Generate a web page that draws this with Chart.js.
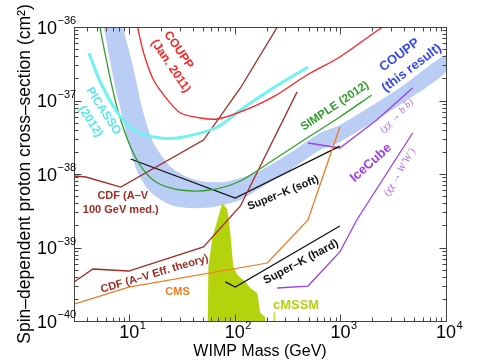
<!DOCTYPE html>
<html><head><meta charset="utf-8">
<script src="https://cdn.jsdelivr.net/npm/chart.js@4.4.1/dist/chart.umd.min.js"></script>
<style>html,body{margin:0;padding:0;background:#fff;}canvas{display:block;}</style>
</head><body>
<canvas id="c" width="479" height="361"></canvas>
<script>
// ---- data (WIMP mass in GeV, cross-section in cm^2) ----
const couppJan2011Mass  = [11.4, 12.0, 13.7, 17.0, 23.1, 30.6, 47.3, 68.4, 113, 231, 483, 988, 2518, 3266];
const couppJan2011Sigma = [1.46e-36, 1e-36, 4.43e-37, 1.90e-37, 1.02e-37, 6.76e-38, 5.78e-38, 5.6e-38, 6.98e-38, 1.12e-37, 2.22e-37, 3.91e-37, 1e-36, 1.17e-36];

const picassoMass  = [4.15, 5.38, 7.79, 11.0, 19.8, 32.7, 68.4, 113, 231, 493];
const picassoSigma = [4.43e-37, 1.73e-37, 6.76e-38, 3.97e-38, 3.09e-38, 3.19e-38, 4.36e-38, 7.43e-38, 1.48e-37, 2.86e-37];

const simpleMass  = [5.05, 5.27, 6.27, 7.79, 10.3, 13.7, 18.6, 30.6, 58.7, 113, 231, 483, 988, 1982];
const simpleSigma = [1.46e-36, 1e-36, 2.86e-37, 7.43e-38, 2.33e-38, 1.13e-38, 7.55e-39, 6.06e-39, 6.06e-39, 8.04e-39, 1.55e-38, 3.09e-38, 5.97e-38, 1.19e-37];

const couppBandLowerMass  = [5.38, 5.74, 6.55, 7.46, 8.32, 9.68, 12.0, 15.9, 24.7, 38.0, 62.7, 113, 163, 334, 641, 988, 3637, 10000];
const couppBandLowerSigma = [1.46e-36, 1e-36, 3.56e-37, 1.39e-37, 7.43e-38, 2.90e-38, 1.06e-38, 5.69e-39, 3.78e-39, 3.44e-39, 3.56e-39, 4.43e-39, 6.06e-39, 1.13e-38, 2.12e-38, 2.72e-38, 8.69e-38, 2.44e-37];
const couppBandUpperMass  = [8.13, 8.69, 10.8, 13.4, 17.0, 24.7, 35.6, 47.3, 77.9, 163, 334, 641, 988, 3637, 10000];
const couppBandUpperSigma = [1.46e-36, 1e-36, 3.04e-37, 7.43e-38, 2.64e-38, 1.25e-38, 9.1e-39, 8.04e-39, 7.78e-39, 1.06e-38, 1.93e-38, 3.61e-38, 4.65e-38, 1.48e-37, 4.16e-37];

const cdfMedMass  = [3.0, 3.89, 8.32, 50.5, 113, 281];
const cdfMedSigma = [9.4e-39, 9.1e-39, 6.65e-39, 2.90e-38, 1.48e-37, 1.29e-36];

const cdfEftMass  = [3.0, 4.53, 9.89, 50.5, 113, 389];
const cdfEftSigma = [3.40e-40, 5.10e-40, 4.79e-40, 1.02e-39, 3.67e-39, 1.31e-37];

const cmsMass  = [3.0, 9.89, 203, 493, 988];
const cmsSigma = [1.70e-40, 2.90e-40, 6.15e-40, 2.37e-39, 4.36e-38];

const superKSoftMass  = [10.3, 101, 988];
const superKSoftSigma = [1.60e-38, 4.71e-39, 2.40e-38];
const superKHardMass  = [81.3, 101, 988];
const superKHardSigma = [3.40e-40, 2.90e-40, 1.96e-39];

const iceCubeBBMass  = [493, 988, 2208, 4826];
const iceCubeBBSigma = [2.64e-38, 2.26e-38, 5.43e-38, 1.48e-37];
const iceCubeWWMass  = [252, 493, 988, 1429, 4826];
const iceCubeWWSigma = [2.81e-40, 2.99e-40, 8.69e-40, 2.37e-39, 3.61e-38];

const cmssmMass  = [55.1, 56.2, 61.4, 68.4, 76.2, 85.0, 90.7, 96.8, 106, 126, 140, 163, 167, 174, 194, 203, 233, 233, 239, 239];
const cmssmSigma = [5e-41, 5.43e-40, 1.39e-39, 2.37e-39, 4.03e-39, 3.3e-39, 1.57e-39, 5.43e-40, 4.23e-40, 3.40e-40, 2.81e-40, 2.40e-40, 1.93e-40, 1.29e-40, 1.13e-40, 5e-41, 5e-41, 1.32e-40, 1.32e-40, 5e-41];

const xTickValues = [10, 100, 1000, 10000];
const xTickExponents = ['1', '2', '3', '4'];
const yTickValues = [1e-40, 1e-39, 1e-38, 1e-37, 1e-36];
const yTickExponents = ['\u221240', '\u221239', '\u221238', '\u221237', '\u221236'];

// ---- helpers ----
const pts = (m, s) => m.map((v, i) => ({x: v, y: s[i]}));
const FONT = "'Liberation Sans', Arial, Helvetica, sans-serif";
const SERIF = "'Liberation Serif', 'Times New Roman', serif";

const bandPolygon = pts(couppBandLowerMass, couppBandLowerSigma)
  .concat(pts(couppBandUpperMass, couppBandUpperSigma).reverse());

function line(data, color, width, tension) {
  return {data, borderColor: color, borderWidth: width, tension: tension || 0,
          showLine: true, pointRadius: 0, fill: false, order: 1};
}

const datasets = [
  {data: bandPolygon, showLine: true, pointRadius: 0, borderWidth: 0, borderColor: 'rgba(0,0,0,0)',
   backgroundColor: '#bacdf5', fill: 'shape', tension: 0.25, order: 10},
  {data: pts(cmssmMass, cmssmSigma), showLine: true, pointRadius: 0, borderWidth: 0, borderColor: 'rgba(0,0,0,0)',
   backgroundColor: '#b5d30c', fill: 'shape', tension: 0, order: 9},
  line(pts(couppJan2011Mass, couppJan2011Sigma), '#ff2020', 1.3, 0.3),
  line(pts(picassoMass, picassoSigma), '#6ef2f2', 3, 0.3),
  line(pts(simpleMass, simpleSigma), '#2f9e2a', 1.3, 0.3),
  line(pts(cdfMedMass, cdfMedSigma), '#a02c24', 1.3),
  line(pts(cdfEftMass, cdfEftSigma), '#a02c24', 1.3),
  line(pts(cmsMass, cmsSigma), '#f07a20', 1.3),
  line(pts(superKSoftMass, superKSoftSigma), '#111111', 1.3),
  line(pts(superKHardMass, superKHardSigma), '#111111', 1.3),
  line(pts(iceCubeBBMass, iceCubeBBSigma), '#9d3cf0', 1.3),
  line(pts(iceCubeWWMass, iceCubeWWSigma), '#9d3cf0', 1.3)
];

// text annotations anchored in data coordinates
const annotations = [
  {t: 'COUPP', m: 29.3, s: 4.87e-37, r: 56, c: '#ff2020', f: 'bold 12px ' + FONT},
  {t: '(Jan. 2011)', m: 24.7, s: 2.94e-37, r: 56, c: '#ff2020', f: 'bold 12px ' + FONT},
  {t: 'PICASSO', m: 5.7, s: 7.2e-38, r: 57, c: '#55e8ea', f: 'bold 12px ' + FONT},
  {t: '(2012)', m: 4.3, s: 5.2e-38, r: 57, c: '#55e8ea', f: 'bold 12px ' + FONT},
  {t: 'SIMPLE (2012)', m: 887, s: 8.41e-38, r: -34, c: '#2f9e2a', f: 'bold 11.5px ' + FONT},
  {t: 'COUPP', m: 3637, s: 4.16e-37, r: -37, c: '#3346f0', f: 'bold 13px ' + FONT},
  {t: '(this result)', m: 4732, s: 2.77e-37, r: -37, c: '#3346f0', f: 'bold 13px ' + FONT},
  {t: '(\u03c7\u03c7 \u2192 b b\u0304)', m: 3412, s: 6.15e-38, r: -45, c: '#b266f2', f: 'italic 10px ' + SERIF},
  {t: 'IceCube', m: 1941, s: 1.41e-38, r: -42, c: '#9d3cf0', f: 'bold 13px ' + FONT},
  {t: '(\u03c7\u03c7 \u2192 W\u207aW\u207b)', m: 3637, s: 1.06e-38, r: -59, c: '#b266f2', f: 'italic 10px ' + SERIF},
  {t: 'CDF (A\u2013V', m: 8.69, s: 5.03e-39, r: 0, c: '#a02c24', f: 'bold 11px ' + FONT},
  {t: '100 GeV med.)', m: 8.32, s: 3.24e-39, r: 0, c: '#a02c24', f: 'bold 11px ' + FONT},
  {t: 'CDF (A\u2013V Eff. theory)', m: 17.4, s: 4.36e-40, r: -16.5, c: '#a02c24', f: 'bold 11px ' + FONT},
  {t: 'CMS', m: 28.7, s: 2.48e-40, r: 0, c: '#f07a20', f: 'bold 11px ' + FONT},
  {t: 'Super\u2013K (soft)', m: 287, s: 5.51e-39, r: -22, c: '#111111', f: 'bold 11px ' + FONT},
  {t: 'Super\u2013K (hard)', m: 424, s: 6.35e-40, r: -28, c: '#111111', f: 'bold 11.5px ' + FONT},
  {t: 'cMSSM', m: 380, s: 1.65e-40, r: 0, c: '#b5d30c', f: 'bold 13px ' + FONT}
];

const decor = {
  id: 'decor',
  afterDatasetsDraw(chart) {
    const {ctx, chartArea: a, scales: {x, y}} = chart;
    ctx.save();
    // annotations
    for (const L of annotations) {
      const px = x.getPixelForValue(L.m), py = y.getPixelForValue(L.s);
      ctx.save();
      ctx.translate(px, py);
      ctx.rotate(L.r * Math.PI / 180);
      ctx.font = L.f; ctx.fillStyle = L.c;
      ctx.textAlign = 'center'; ctx.textBaseline = 'middle';
      ctx.fillText(L.t, 0, 0);
      ctx.restore();
    }
    // frame
    const L0 = Math.round(a.left) + 0.5, T0 = Math.round(a.top) + 0.5;
    const R0 = Math.round(a.right) + 0.5, B0 = Math.round(a.bottom) + 0.5;
    ctx.strokeStyle = '#444'; ctx.lineWidth = 1;
    ctx.strokeRect(L0, T0, R0 - L0, B0 - T0);
    // ticks (inward, all four sides)
    ctx.beginPath();
    for (let e = 0; e <= 4; e++) {
      for (let k = 1; k <= 9; k++) {
        const v = k * Math.pow(10, e);
        if (v < 3 || v > 10000) continue;
        const len = k === 1 ? 7 : 4;
        const px = Math.round(x.getPixelForValue(v)) + 0.5;
        ctx.moveTo(px, B0); ctx.lineTo(px, B0 - len);
        ctx.moveTo(px, T0); ctx.lineTo(px, T0 + len);
      }
    }
    for (let e = -40; e <= -36; e++) {
      for (let k = 1; k <= 9; k++) {
        if (e === -36 && k > 1) break;
        const v = k * Math.pow(10, e);
        const len = k === 1 ? 7 : 4;
        const py = Math.round(y.getPixelForValue(v)) + 0.5;
        ctx.moveTo(L0, py); ctx.lineTo(L0 + len, py);
        ctx.moveTo(R0, py); ctx.lineTo(R0 - len, py);
      }
    }
    ctx.stroke();
    // tick labels
    ctx.fillStyle = '#000';
    ctx.textBaseline = 'alphabetic';
    xTickValues.forEach((v, i) => {
      const px = x.getPixelForValue(v);
      ctx.font = '18px ' + FONT; ctx.textAlign = 'center';
      const w = ctx.measureText('10').width;
      ctx.fillText('10', px, a.bottom + 16.5);
      ctx.font = '11px ' + FONT; ctx.textAlign = 'left';
      ctx.fillText(xTickExponents[i], px + w / 2 + 0.5, a.bottom + 7.5);
    });
    yTickValues.forEach((v, i) => {
      const py = y.getPixelForValue(v);
      ctx.font = '18px ' + FONT; ctx.textAlign = 'right';
      ctx.fillText('10', a.left - 17, py + 6.5);
      ctx.font = '11px ' + FONT; ctx.textAlign = 'left';
      ctx.fillText(yTickExponents[i], a.left - 16.5, py - 3);
    });
    ctx.restore();
  }
};

new Chart(document.getElementById('c'), {
  type: 'scatter',
  data: {datasets},
  options: {
    responsive: false,
    animation: false,
    events: [],
    layout: {padding: {top: 27, right: 33, left: 0, bottom: 0}},
    plugins: {legend: {display: false}, tooltip: {enabled: false}},
    scales: {
      x: {
        type: 'logarithmic', min: 3, max: 10000,
        grid: {display: false}, border: {display: false},
        ticks: {display: false},
        title: {display: true, text: 'WIMP Mass (GeV)', color: '#000',
                font: {family: FONT, size: 16}, padding: {top: 0, bottom: 0}},
        afterFit(s) { s.height = 40; }
      },
      y: {
        type: 'logarithmic', min: 1e-40, max: 1e-36,
        grid: {display: false}, border: {display: false},
        ticks: {display: false},
        title: {display: true, text: 'Spin\u2013dependent proton cross\u2013section (cm\u00b2)', color: '#000',
                font: {family: FONT, size: 17.5}, padding: {top: 15, bottom: 0}},
        afterFit(s) { s.width = 74; }
      }
    }
  },
  plugins: [decor]
});
</script>
</body></html>
